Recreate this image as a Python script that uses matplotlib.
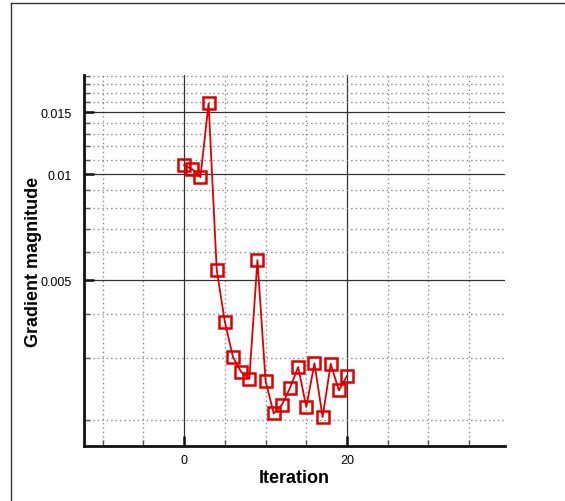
import numpy as np
import matplotlib
matplotlib.use("Agg")
import matplotlib.pyplot as plt
from matplotlib.lines import Line2D
from matplotlib.ticker import FixedLocator, FixedFormatter, MultipleLocator

plt.rcParams['font.family'] = ['Liberation Sans', 'DejaVu Sans']

# gradient history per iteration
iteration = np.arange(0, 21)
grad_mag = [0.01061, 0.01033, 0.00981, 0.01591, 0.00534, 0.00380, 0.00302,
            0.00274, 0.00262, 0.00570, 0.00258, 0.00209, 0.00221, 0.00247,
            0.00283, 0.00218, 0.00290, 0.00204, 0.00289, 0.00243, 0.00267]

y_major = [0.005, 0.01, 0.015]
y_major_labels = ['0.005', '0.01', '0.015']
y_minor = [0.002, 0.003, 0.004, 0.006, 0.007, 0.008, 0.009, 0.011, 0.012,
           0.013, 0.014, 0.016, 0.017, 0.018, 0.019]

fig = plt.figure(figsize=(5.65, 5.02), dpi=100)
ax = fig.add_axes([84 / 565, 55 / 502, 421 / 565, 371 / 502])

ax.plot(iteration, grad_mag, color='#dd0000', lw=1.3, marker='s',
        markersize=8, markerfacecolor='none', markeredgewidth=1.8,
        markeredgecolor='#dd0000', zorder=5)

ax.set_yscale('log')
ax.set_xlim(-12.3, 39.4)
ax.set_ylim(0.001688, 0.01915)

ax.yaxis.set_major_locator(FixedLocator(y_major))
ax.yaxis.set_major_formatter(FixedFormatter(y_major_labels))
ax.yaxis.set_minor_locator(FixedLocator(y_minor))
ax.yaxis.set_minor_formatter(FixedFormatter([''] * len(y_minor)))
ax.xaxis.set_major_locator(MultipleLocator(20))
ax.xaxis.set_minor_locator(MultipleLocator(5))

ax.grid(which='major', color='#333333', lw=0.9, ls='-')
ax.grid(which='minor', color='#888888', lw=1.0, ls=(0, (1, 2.2)))
ax.set_axisbelow(True)

for side in ('top', 'right'):
    ax.spines[side].set_visible(False)
for side in ('left', 'bottom'):
    ax.spines[side].set_linewidth(2.0)
    ax.spines[side].set_color('#111111')

ax.tick_params(which='major', direction='in', length=7, width=1.8,
               labelsize=9, color='#111111')
ax.tick_params(axis='y', which='major', pad=8.5)
ax.tick_params(axis='x', which='major', pad=6)
ax.tick_params(which='minor', direction='in', length=4, width=1.0,
               color='#555555')

ax.set_xlabel('Iteration', fontsize=13, fontweight='bold', labelpad=2)
ax.set_ylabel('Gradient magnitude', fontsize=13, fontweight='bold')
ax.yaxis.set_label_coords(-0.1, 0.5)

# frame lines along the top and left edge of the figure
fig.add_artist(Line2D([11 / 565, 11 / 565], [0, 1 - 4 / 502],
                      transform=fig.transFigure, color='#333333', lw=1.0))
fig.add_artist(Line2D([11 / 565, 1], [1 - 4 / 502, 1 - 4 / 502],
                      transform=fig.transFigure, color='#333333', lw=1.0))

fig.savefig('out.png', dpi=100)
